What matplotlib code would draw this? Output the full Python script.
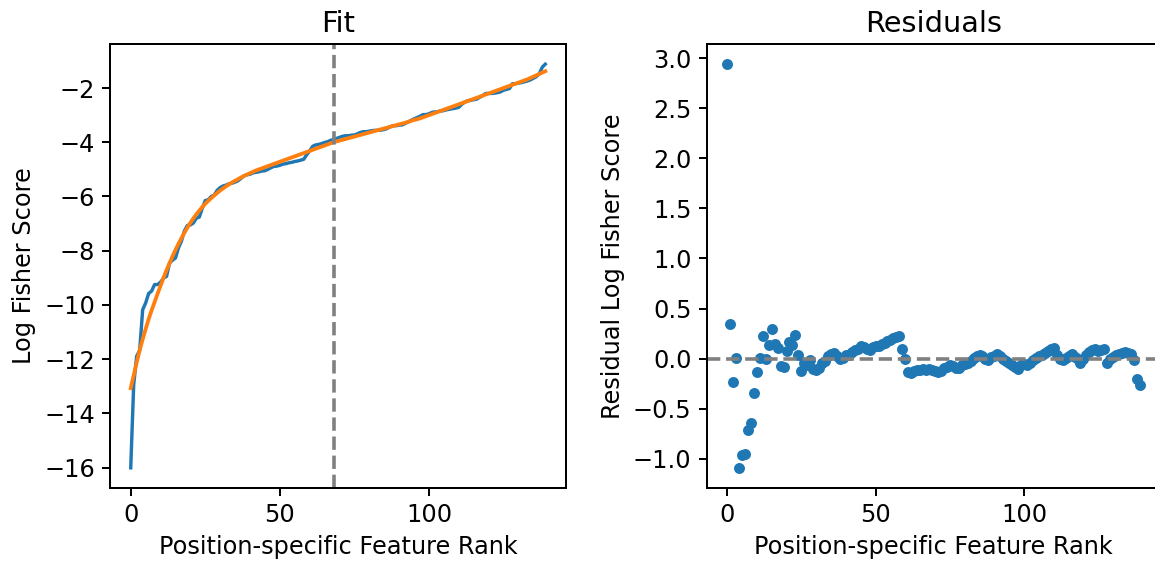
import matplotlib
matplotlib.use("Agg")
import matplotlib.pyplot as plt
import numpy as np

plt.rcParams["font.size"] = 12
plt.rcParams["axes.linewidth"] = 1.0

# fitted log Fisher score for each position-specific feature rank
fit_values = [
    -13.07, -12.59, -12.12, -11.67, -11.27, -10.89, -10.53, -10.20, -9.89, -9.59,
    -9.29, -9.00, -8.72, -8.46, -8.21, -7.97, -7.75, -7.54, -7.34, -7.15,
    -6.97, -6.81, -6.66, -6.52, -6.39, -6.27, -6.16, -6.06, -5.96, -5.87,
    -5.78, -5.70, -5.62, -5.55, -5.48, -5.42, -5.36, -5.30, -5.24, -5.19,
    -5.14, -5.09, -5.04, -5.00, -4.96, -4.92, -4.88, -4.84, -4.80, -4.76,
    -4.72, -4.68, -4.64, -4.60, -4.56, -4.52, -4.48, -4.44, -4.40, -4.36,
    -4.32, -4.28, -4.24, -4.20, -4.16, -4.12, -4.08, -4.04, -4.00, -3.97,
    -3.94, -3.91, -3.88, -3.85, -3.82, -3.79, -3.76, -3.73, -3.70, -3.67,
    -3.64, -3.61, -3.58, -3.55, -3.52, -3.49, -3.46, -3.43, -3.40, -3.37,
    -3.34, -3.31, -3.28, -3.25, -3.21, -3.18, -3.15, -3.12, -3.08, -3.04,
    -3.00, -2.96, -2.92, -2.88, -2.84, -2.80, -2.76, -2.72, -2.68, -2.64,
    -2.60, -2.56, -2.52, -2.48, -2.44, -2.40, -2.36, -2.32, -2.28, -2.24,
    -2.20, -2.16, -2.12, -2.08, -2.04, -2.00, -1.96, -1.92, -1.88, -1.84,
    -1.80, -1.76, -1.72, -1.68, -1.63, -1.58, -1.53, -1.48, -1.43, -1.38,
]

# residuals (fit minus observed)
residuals = [
    2.94, 0.35, -0.23, 0.01, -1.09, -0.96, -0.95, -0.71, -0.64, -0.34,
    -0.13, 0.01, 0.23, 0.00, 0.14, 0.30, 0.15, 0.11, -0.07, -0.08,
    0.08, 0.17, 0.14, 0.24, 0.04, -0.12, -0.04, -0.06, -0.01, -0.10,
    -0.11, -0.09, -0.04, -0.02, 0.03, 0.05, 0.06, 0.03, 0.00, 0.01,
    0.04, 0.04, 0.07, 0.09, 0.10, 0.13, 0.12, 0.10, 0.09, 0.12,
    0.13, 0.13, 0.15, 0.16, 0.18, 0.19, 0.21, 0.22, 0.23, 0.10,
    0.00, -0.13, -0.14, -0.12, -0.11, -0.11, -0.10, -0.11, -0.10, -0.11,
    -0.12, -0.13, -0.12, -0.09, -0.08, -0.06, -0.07, -0.09, -0.09, -0.06,
    -0.05, -0.04, -0.02, 0.01, 0.03, 0.04, 0.03, 0.00, -0.01, 0.02,
    0.03, 0.05, 0.03, 0.00, -0.02, -0.04, -0.06, -0.08, -0.10, -0.06,
    -0.05, -0.06, -0.04, -0.01, 0.01, 0.03, 0.04, 0.06, 0.08, 0.10,
    0.11, 0.04, 0.00, -0.01, 0.01, 0.03, 0.05, 0.02, 0.00, -0.04,
    0.00, 0.04, 0.07, 0.09, 0.10, 0.08, 0.09, 0.10, -0.04, 0.00,
    0.02, 0.04, 0.05, 0.06, 0.07, 0.06, 0.05, -0.01, -0.20, -0.26,
]

cutoff_rank = 68

fit = np.array(fit_values)
resid = np.array(residuals)
observed = fit - resid
rank = np.arange(len(fit))

W, H = 1155, 566
fig = plt.figure(figsize=(W / 144, H / 144), dpi=144)
# axes boxes in pixels: left, bottom, width, height
ax1 = fig.add_axes([110 / W, 78 / H, 456 / W, 444 / H])
ax2 = fig.add_axes([706.5 / W, 78 / H, 454 / W, 444 / H])

ax1.plot(rank, observed, color="C0", linewidth=1.7)
ax1.plot(rank, fit, color="C1", linewidth=1.9)
ax1.axvline(cutoff_rank, color="gray", linestyle="--", linewidth=1.8)
ax1.set_title("Fit")
ax1.set_xlabel("Position-specific Feature Rank")
ax1.set_ylabel("Log Fisher Score")

ax2.scatter(rank, resid, color="C0", s=20)
ax2.axhline(0, color="gray", linestyle="--", linewidth=1.8)
ax2.set_title("Residuals")
ax2.set_xlabel("Position-specific Feature Rank")
ax2.set_ylabel("Residual Log Fisher Score")

for ax in (ax1, ax2):
    ax.tick_params(width=1.0, length=4)

fig.savefig("out.png", dpi=144)
plt.close(fig)
